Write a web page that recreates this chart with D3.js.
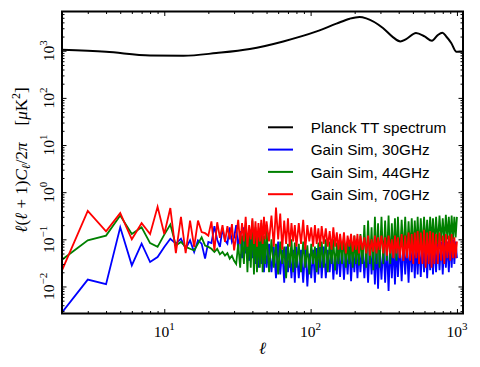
<!DOCTYPE html>
<html>
<head>
<meta charset="utf-8">
<script src="https://cdn.jsdelivr.net/npm/d3@7"></script>
<style>
  body { margin: 0; background: #fff; }
  svg { display: block; }
</style>
</head>
<body>
<div id="graph"></div>
<script>
// multipoles of the simulated spectra (dense part thinned out)
const ells = [
  2, 3, 4, 5, 6, 7, 8, 9, 10, 11, 12, 13, 14, 15, 16, 17, 18, 19, 20, 21, 22, 23, 24, 25, 26, 27, 28, 29, 30,
  31, 32, 33, 34, 35, 36, 37, 38, 39, 40, 41, 42, 43, 44, 45, 46, 47, 48, 49, 50,
  52, 54, 56, 58, 60, 62, 64, 66, 68, 70, 72, 74, 76, 78, 80,
  83, 86, 89, 92, 95, 98, 101, 104, 107, 110, 113, 116, 119,
  123, 127, 131, 135, 139, 143, 147, 151, 155, 159,
  164, 169, 174, 179, 184, 189, 194, 199, 204, 209, 214, 219,
  226, 233, 240, 247, 254, 261, 268, 275, 282, 289, 296,
  305, 314, 323, 332, 341, 350, 359, 368, 377, 386, 395,
  407, 419, 431, 443, 455, 467, 479, 491, 503, 515, 527, 539, 551,
  566, 581, 596, 611, 626, 641, 656, 671, 686, 701,
  720, 740, 760, 780, 800, 820, 840, 860, 880, 900, 920, 940, 960, 980, 1000
];

const gain30 = [
  0.0028, 0.014, 0.0112, 0.18, 0.028, 0.081, 0.033, 0.042, 0.069, 0.103, 0.081, 0.103, 0.063, 0.095, 0.054,
  0.095, 0.081, 0.039, 0.088, 0.083, 0.19, 0.098, 0.069, 0.17, 0.095, 0.081, 0.18, 0.088, 0.11,
  0.2, 0.06, 0.15, 0.04, 0.18, 0.05, 0.12, 0.035, 0.16, 0.04, 0.1, 0.03, 0.12, 0.025, 0.09, 0.03, 0.11, 0.02, 0.08, 0.025,
  0.08, 0.02, 0.07, 0.015, 0.09, 0.018, 0.06, 0.012, 0.07, 0.02, 0.05, 0.015, 0.06, 0.012, 0.07,
  0.015, 0.06, 0.012, 0.07, 0.01, 0.05, 0.015, 0.06, 0.012, 0.065, 0.018, 0.07, 0.015,
  0.07, 0.015, 0.06, 0.02, 0.07, 0.014, 0.05, 0.018, 0.065, 0.016,
  0.07, 0.014, 0.06, 0.018, 0.075, 0.013, 0.06, 0.02, 0.07, 0.015, 0.065, 0.02,
  0.08, 0.015, 0.07, 0.012, 0.08, 0.018, 0.07, 0.011, 0.08, 0.009, 0.07,
  0.014, 0.08, 0.012, 0.075, 0.008, 0.08, 0.015, 0.085, 0.011, 0.08, 0.016,
  0.085, 0.013, 0.09, 0.018, 0.08, 0.012, 0.09, 0.02, 0.085, 0.015, 0.09, 0.018, 0.09,
  0.016, 0.09, 0.02, 0.1, 0.015, 0.09, 0.022, 0.1, 0.018, 0.09,
  0.02, 0.1, 0.022, 0.09, 0.018, 0.1, 0.025, 0.09, 0.02, 0.1, 0.025, 0.1, 0.03, 0.09, 0.04
];

const gain44 = [
  0.037, 0.095, 0.12, 0.32, 0.13, 0.18, 0.083, 0.069, 0.126, 0.205, 0.074, 0.088, 0.069, 0.063, 0.058,
  0.081, 0.11, 0.074, 0.069, 0.063, 0.054, 0.063, 0.048, 0.054, 0.045, 0.051, 0.039, 0.045, 0.035,
  0.03, 0.08, 0.025, 0.12, 0.03, 0.2, 0.02, 0.15, 0.025, 0.25, 0.018, 0.18, 0.02, 0.14, 0.025, 0.22, 0.02, 0.12, 0.03, 0.16,
  0.02, 0.1, 0.025, 0.08, 0.018, 0.09, 0.03, 0.07, 0.015, 0.08, 0.025, 0.1, 0.02, 0.085, 0.025,
  0.08, 0.02, 0.09, 0.025, 0.075, 0.018, 0.08, 0.03, 0.07, 0.02, 0.085, 0.025, 0.09,
  0.025, 0.1, 0.02, 0.09, 0.03, 0.1, 0.022, 0.085, 0.03, 0.1,
  0.03, 0.11, 0.025, 0.09, 0.03, 0.1, 0.025, 0.12, 0.03, 0.1, 0.028, 0.13,
  0.03, 0.2, 0.025, 0.25, 0.03, 0.18, 0.022, 0.3, 0.03, 0.22, 0.025,
  0.3, 0.03, 0.25, 0.035, 0.32, 0.03, 0.22, 0.04, 0.28, 0.035, 0.3,
  0.04, 0.26, 0.05, 0.3, 0.045, 0.24, 0.055, 0.28, 0.05, 0.25, 0.06, 0.3, 0.055,
  0.28, 0.06, 0.3, 0.07, 0.26, 0.065, 0.3, 0.075, 0.28, 0.07,
  0.3, 0.08, 0.32, 0.09, 0.28, 0.085, 0.33, 0.1, 0.3, 0.09, 0.32, 0.1, 0.3, 0.11, 0.3
];

const gain70 = [
  0.022, 0.40, 0.148, 0.36, 0.10, 0.22, 0.13, 0.49, 0.13, 0.46, 0.051, 0.30, 0.051, 0.25, 0.069,
  0.25, 0.143, 0.135, 0.12, 0.24, 0.058, 0.23, 0.108, 0.20, 0.088, 0.19, 0.10, 0.21, 0.058,
  0.12, 0.26, 0.08, 0.22, 0.09, 0.3, 0.07, 0.2, 0.1, 0.28, 0.08, 0.24, 0.07, 0.22, 0.09, 0.26, 0.08, 0.3, 0.1, 0.24,
  0.09, 0.32, 0.07, 0.47, 0.1, 0.35, 0.06, 0.25, 0.08, 0.28, 0.07, 0.22, 0.09, 0.2, 0.07,
  0.22, 0.08, 0.26, 0.06, 0.2, 0.09, 0.18, 0.07, 0.2, 0.08, 0.17, 0.07, 0.19,
  0.08, 0.17, 0.07, 0.15, 0.06, 0.18, 0.07, 0.14, 0.06, 0.13,
  0.06, 0.14, 0.05, 0.12, 0.07, 0.13, 0.055, 0.12, 0.06, 0.13, 0.05, 0.12,
  0.06, 0.11, 0.05, 0.12, 0.045, 0.1, 0.055, 0.12, 0.05, 0.11, 0.06,
  0.12, 0.05, 0.11, 0.045, 0.12, 0.05, 0.1, 0.04, 0.12, 0.05, 0.11,
  0.04, 0.13, 0.035, 0.12, 0.04, 0.14, 0.035, 0.13, 0.03, 0.14, 0.04, 0.15, 0.03,
  0.14, 0.03, 0.16, 0.025, 0.14, 0.03, 0.15, 0.025, 0.14, 0.03,
  0.13, 0.03, 0.14, 0.035, 0.12, 0.03, 0.13, 0.04, 0.12, 0.035, 0.13, 0.04, 0.11, 0.04, 0.09
];

// Planck TT best fit, read at a few multipoles
const planckEll = [2, 4, 8, 13.5, 22.7, 38.4, 65, 110, 150, 185, 216, 240, 312, 365, 410, 450, 525, 601, 675, 740, 795, 845, 914, 985, 1000, 1090];
const planckDl = [1050, 950, 794, 783, 893, 1087, 1578, 2570, 3750, 4790, 5210, 4870, 3040, 1950, 1580, 1770, 2380, 2010, 1630, 2150, 2400, 2010, 1460, 960, 950, 950];

const xTickExp = [1, 2, 3];
const yTickExp = [-2, -1, 0, 1, 2, 3];
const legendLabels = ['Planck TT spectrum', 'Gain Sim, 30GHz', 'Gain Sim, 44GHz', 'Gain Sim, 70GHz'];
const colors = ['#000000', '#0000ff', '#008000', '#ff0000'];

const width = 480, height = 367;
const margin = { top: 11.5, right: 17, bottom: 53.5, left: 62 };
const chartWidth = width - margin.left - margin.right;
const chartHeight = height - margin.top - margin.bottom;

const svg = d3.select('#graph').append('svg')
  .attr('width', width)
  .attr('height', height);

svg.append('rect').attr('width', width).attr('height', height).attr('fill', '#fff');

const chartLayer = svg.append('g')
  .attr('transform', 'translate(' + [margin.left, margin.top] + ')');

const x = d3.scaleLog().domain([2, 1100]).range([0, chartWidth]);
const y = d3.scaleLog().domain([0.00267, 6800]).range([chartHeight, 0]);

svg.append('defs').append('clipPath').attr('id', 'clip')
  .append('rect').attr('width', chartWidth).attr('height', chartHeight);

const plot = chartLayer.append('g').attr('clip-path', 'url(#clip)');

const line = d3.line()
  .x(function(d) { return x(d[0]); })
  .y(function(d) { return y(d[1]); });

// black curve first, then 30, 44, 70 GHz on top
plot.append('path')
  .datum(d3.zip(planckEll, planckDl))
  .attr('fill', 'none')
  .attr('stroke', colors[0])
  .attr('stroke-width', 2)
  .attr('d', line.curve(d3.curveMonotoneX));

line.curve(d3.curveLinear);
[gain30, gain44, gain70].forEach(function(vals, i) {
  plot.append('path')
    .datum(d3.zip(ells, vals))
    .attr('fill', 'none')
    .attr('stroke', colors[i + 1])
    .attr('stroke-width', 1.8)
    .attr('stroke-linejoin', 'miter')
    .attr('d', line);
});

// ticks inside on all four sides
const isMajor = function(v) { return Math.abs(Math.log10(v) - Math.round(Math.log10(v))) < 1e-9; };
const xMajor = x.ticks().filter(isMajor), xMinor = x.ticks().filter(function(v) { return !isMajor(v); });
const yMajor = y.ticks().filter(isMajor), yMinor = y.ticks().filter(function(v) { return !isMajor(v); });

function addTicks(axis, vals, len, transform) {
  const g = chartLayer.append('g')
    .attr('transform', transform)
    .call(axis.tickValues(vals).tickSizeInner(-len).tickSizeOuter(0).tickFormat(''));
  g.select('.domain').remove();
  g.selectAll('line').attr('stroke', '#000').attr('stroke-width', 1);
}
addTicks(d3.axisBottom(x), xMajor, 4.5, 'translate(0,' + chartHeight + ')');
addTicks(d3.axisBottom(x), xMinor, 2.5, 'translate(0,' + chartHeight + ')');
addTicks(d3.axisTop(x), xMajor, 4.5, 'translate(0,0)');
addTicks(d3.axisTop(x), xMinor, 2.5, 'translate(0,0)');
addTicks(d3.axisLeft(y), yMajor, 4.5, 'translate(0,0)');
addTicks(d3.axisLeft(y), yMinor, 2.5, 'translate(0,0)');
addTicks(d3.axisRight(y), yMajor, 4.5, 'translate(' + chartWidth + ',0)');
addTicks(d3.axisRight(y), yMinor, 2.5, 'translate(' + chartWidth + ',0)');

chartLayer.append('rect')
  .attr('width', chartWidth)
  .attr('height', chartHeight)
  .attr('fill', 'none')
  .attr('stroke', '#000')
  .attr('stroke-width', 2);

// tick labels 10^k
function powerLabel(sel) {
  sel.append('tspan').text('10');
  sel.append('tspan')
    .attr('dy', -7)
    .attr('font-size', 11)
    .text(function(d) { return String(d).replace('-', '\u2212'); });
}

chartLayer.append('g').selectAll('text')
  .data(xTickExp)
  .join('text')
  .attr('x', function(d) { return x(Math.pow(10, d)); })
  .attr('y', chartHeight + 23)
  .attr('text-anchor', 'middle')
  .attr('font-family', 'Liberation Serif, serif')
  .attr('font-size', 15.5)
  .call(powerLabel);

chartLayer.append('g').selectAll('text')
  .data(yTickExp)
  .join('text')
  .attr('transform', function(d) { return 'translate(-8,' + y(Math.pow(10, d)) + ') rotate(-90)'; })
  .attr('text-anchor', 'middle')
  .attr('font-family', 'Liberation Serif, serif')
  .attr('font-size', 15.5)
  .call(powerLabel);

// axis titles
svg.append('text')
  .attr('x', margin.left + chartWidth / 2)
  .attr('y', 354)
  .attr('text-anchor', 'middle')
  .attr('font-family', 'Liberation Serif, serif')
  .attr('font-style', 'italic')
  .attr('font-size', 17)
  .text('\u2113');

const ylab = svg.append('text')
  .attr('transform', 'translate(27,160) rotate(-90)')
  .attr('text-anchor', 'middle')
  .attr('font-family', 'Liberation Serif, serif')
  .attr('font-size', 17);
ylab.append('tspan').attr('font-style', 'italic').text('\u2113');
ylab.append('tspan').text('(');
ylab.append('tspan').attr('font-style', 'italic').text('\u2113');
ylab.append('tspan').text(' + 1)');
ylab.append('tspan').attr('font-style', 'italic').text('C');
ylab.append('tspan').attr('font-style', 'italic').attr('font-size', 12).attr('dy', 3).text('\u2113');
ylab.append('tspan').attr('dy', -3).text('/2');
ylab.append('tspan').attr('font-style', 'italic').text('\u03c0');
ylab.append('tspan').text('\u2002\u2002[');
ylab.append('tspan').attr('font-style', 'italic').text('\u03bc');
ylab.append('tspan').text('K');
ylab.append('tspan').attr('font-size', 12).attr('dy', -7).text('2');
ylab.append('tspan').attr('dy', 7).text(']');

// legend, no frame
const legend = svg.append('g').attr('transform', 'translate(268,127.3)');
const rows = legend.selectAll('g')
  .data(legendLabels)
  .join('g')
  .attr('transform', function(d, i) { return 'translate(0,' + (i * 22.3) + ')'; });
rows.append('line')
  .attr('x1', 0).attr('x2', 25)
  .attr('stroke', function(d, i) { return colors[i]; })
  .attr('stroke-width', 2);
rows.append('text')
  .attr('x', 42.7)
  .attr('y', 5.8)
  .attr('font-family', 'Liberation Sans, Arial, sans-serif')
  .attr('font-size', 15.3)
  .text(function(d) { return d; });
</script>
</body>
</html>
